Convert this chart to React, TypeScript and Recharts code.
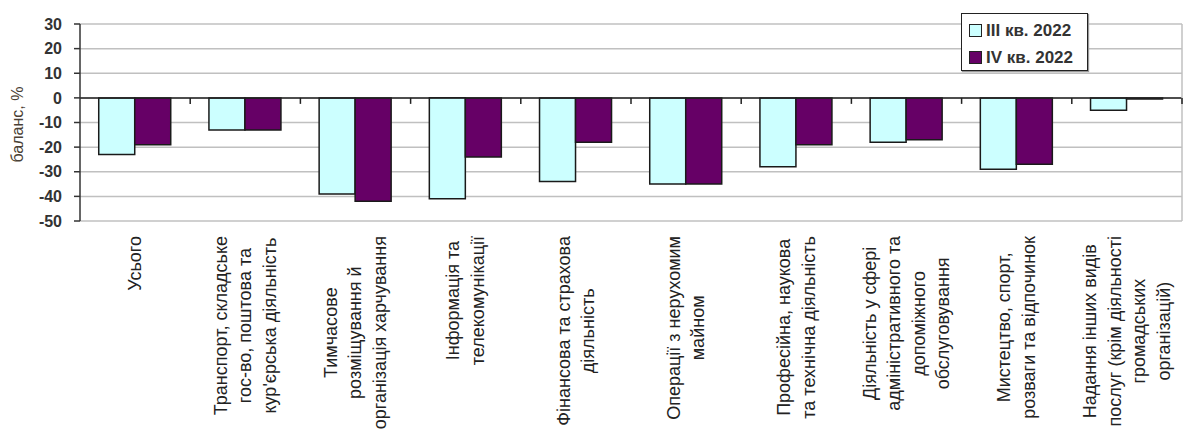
import {
  BarChart, Bar, XAxis, YAxis, CartesianGrid, ReferenceLine, Legend,
} from 'recharts'

// категорії (рядки підпису), значення балансу за кварталами
const categoryLines: string[][] = [
  ['Усього'],
  ['Транспорт, складське', 'гос-во, поштова та', "кур'єрська діяльність"],
  ['Тимчасове', 'розміщування й', 'організація харчування'],
  ['Інформація та', 'телекомунікації'],
  ['Фінансова та страхова', 'діяльність'],
  ['Операції з нерухомим', 'майном'],
  ['Професійна, наукова', 'та технічна діяльність'],
  ['Діяльність у сфері', 'адміністративного та', 'допоміжного', 'обслуговування'],
  ['Мистецтво, спорт,', 'розваги та відпочинок'],
  ['Надання інших видів', 'послуг (крім діяльності', 'громадських', 'організацій)'],
]
const q3Values = [-23, -13, -39, -41, -34, -35, -28, -18, -29, -5]
const q4Values = [-19, -13, -42, -24, -18, -35, -19, -17, -27, -0.5]
const yTicks = [-50, -40, -30, -20, -10, 0, 10, 20, 30]
const seriesNames = ['III кв. 2022', 'IV кв. 2022']

const Y_MIN = -50
const Y_MAX = 30
const W = 1183
const H = 430
const TOP = 24
const X_AXIS_H = 209
const PLOT_H = H - TOP - X_AXIS_H

const Q3_COLOR = '#ccffff'
const Q4_COLOR = '#660066'
const FONT = '"Liberation Sans", Arial, sans-serif'
const LABEL_SIZE = 18
const LINE_GAP = 24.5

const data = categoryLines.map((lines, i) => ({
  name: lines.join(' '),
  lines,
  q3: q3Values[i],
  q4: q4Values[i],
}))

let ctx: CanvasRenderingContext2D | null = null
function textWidth(s: string): number {
  if (!ctx) ctx = document.createElement('canvas').getContext('2d')
  if (!ctx) return s.length * LABEL_SIZE * 0.5
  ctx.font = `${LABEL_SIZE}px ${FONT}`
  return ctx.measureText(s).width
}

function CategoryTick(props: any) {
  const { x, y, payload, index } = props
  const idx = payload.index ?? index
  const lines = categoryLines[idx] ?? [String(payload.value)]
  const longest = Math.max(...lines.map(textWidth))
  const top = y + 15
  const cy = top + longest / 2
  const half = payload.offset ?? 55
  // риски на нульовій лінії між категоріями
  const zeroY = y - (PLOT_H * (0 - Y_MIN)) / (Y_MAX - Y_MIN)
  const isLast = idx === categoryLines.length - 1
  return (
    <g>
      {idx > 0 && (
        <line x1={x - half} x2={x - half} y1={zeroY} y2={zeroY + 6} stroke="#222" strokeWidth={1.5} />
      )}
      {isLast && (
        <line x1={x + half} x2={x + half} y1={zeroY} y2={zeroY + 6} stroke="#222" strokeWidth={1.5} />
      )}
      {lines.map((ln, i) => {
        const lx = x + (i - (lines.length - 1) / 2) * LINE_GAP
        return (
          <text
            key={i}
            x={lx}
            y={cy}
            transform={`rotate(-90 ${lx} ${cy})`}
            textAnchor="middle"
            dominantBaseline="central"
            fontSize={LABEL_SIZE}
            fontFamily={FONT}
            fill="#222"
          >
            {ln}
          </text>
        )
      })}
    </g>
  )
}

function LegendBox() {
  const colors = [Q3_COLOR, Q4_COLOR]
  return (
    <div
      style={{
        width: 118, height: 53, border: '1.5px solid #222', background: '#fff',
        boxShadow: '1px 1px 1px #999', padding: '3px 0 0 7px', boxSizing: 'content-box',
        fontFamily: FONT, fontSize: 17, fontWeight: 'bold', color: '#333',
      }}
    >
      {seriesNames.map((n, i) => (
        <div key={n} style={{ display: 'flex', alignItems: 'center', height: 27 }}>
          <span style={{ width: 11, height: 11, border: '1px solid #222', background: colors[i], marginRight: 4 }} />
          <span>{n}</span>
        </div>
      ))}
    </div>
  )
}

export default function App() {
  return (
    <div style={{ position: 'absolute', left: 0, top: 0, width: W, height: H, background: '#fff' }}>
      <BarChart
        width={W}
        height={H}
        data={data}
        margin={{ top: TOP, right: 0, left: 0, bottom: 0 }}
        barCategoryGap="17%"
        barGap={0}
      >
        <CartesianGrid vertical={false} stroke="#c0c0c0" strokeWidth={1.5} />
        <XAxis
          dataKey="name"
          interval={0}
          height={X_AXIS_H}
          axisLine={false}
          tickLine={false}
          tickSize={0}
          tickMargin={0}
          tick={<CategoryTick />}
        />
        <YAxis
          domain={[Y_MIN, Y_MAX]}
          ticks={yTicks}
          interval={0}
          width={80}
          tickSize={6}
          tickMargin={12}
          axisLine={{ stroke: '#333', strokeWidth: 1.5 }}
          tickLine={{ stroke: '#333', strokeWidth: 1.5 }}
          tick={{ fill: '#333', fontSize: 16, fontWeight: 'bold', fontFamily: FONT }}
          label={({ viewBox }: any) => {
            const lx = viewBox.x + 17
            const ly = viewBox.y + viewBox.height / 2 + 2
            return (
              <text
                x={lx} y={ly} transform={`rotate(-90 ${lx} ${ly})`}
                textAnchor="middle" dominantBaseline="central"
                fontSize={16} fontFamily={FONT} fill="#4a3f35"
              >
                баланс, %
              </text>
            )
          }}
        />
        <YAxis
          yAxisId="frame"
          orientation="right"
          domain={[Y_MIN, Y_MAX]}
          width={1}
          tick={false}
          tickLine={false}
          axisLine={{ stroke: '#c0c0c0', strokeWidth: 1.5 }}
        />
        <Legend
          layout="vertical"
          align="center"
          verticalAlign="middle"
          content={<LegendBox />}
          wrapperStyle={{ position: 'absolute', left: 961, top: 13, width: 'auto' }}
        />
        <Bar dataKey="q3" name={seriesNames[0]} fill={Q3_COLOR} stroke="#1a1a1a" strokeWidth={1.5} isAnimationActive={false} />
        <Bar dataKey="q4" name={seriesNames[1]} fill={Q4_COLOR} stroke="#1a1a1a" strokeWidth={1.5} isAnimationActive={false} />
        <ReferenceLine y={0} stroke="#222" strokeWidth={1.5} />
      </BarChart>
    </div>
  )
}
